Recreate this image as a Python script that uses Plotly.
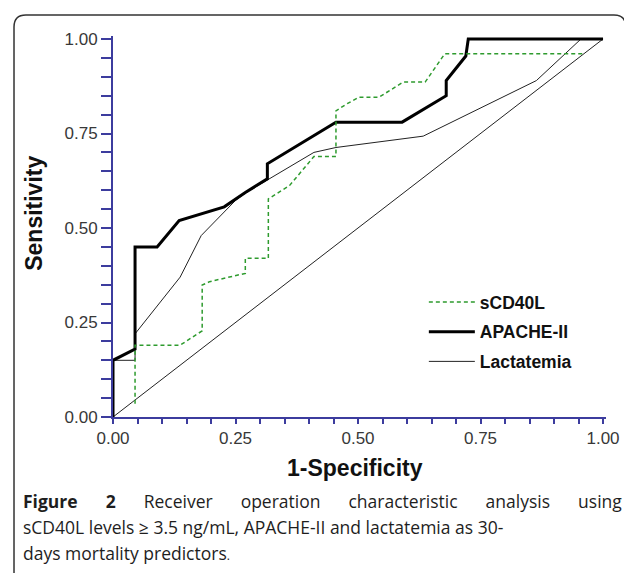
import plotly.graph_objects as go

# ---- data ----
apache_x = [0, 0, 0.045, 0.045, 0.09, 0.135, 0.227, 0.27, 0.315, 0.315, 0.455, 0.59, 0.68, 0.68, 0.72, 0.725, 1.0]
apache_y = [0, 0.15, 0.18, 0.45, 0.45, 0.52, 0.556, 0.594, 0.63, 0.67, 0.78, 0.78, 0.85, 0.89, 0.955, 1.0, 1.0]

lact_x = [0, 0, 0.045, 0.045, 0.137, 0.18, 0.25, 0.272, 0.315, 0.41, 0.455, 0.633, 0.864, 0.955, 1.0]
lact_y = [0, 0.15, 0.15, 0.22, 0.37, 0.48, 0.573, 0.594, 0.627, 0.70, 0.713, 0.743, 0.89, 1.0, 1.0]

scd_x = [0.045, 0.045, 0.137, 0.182, 0.182, 0.197, 0.27, 0.27, 0.317, 0.317, 0.36, 0.41, 0.455, 0.455,
         0.478, 0.502, 0.543, 0.592, 0.637, 0.677, 0.962]
scd_y = [0.035, 0.19, 0.19, 0.228, 0.349, 0.358, 0.38, 0.42, 0.42, 0.577, 0.612, 0.689, 0.689, 0.81,
         0.829, 0.846, 0.846, 0.886, 0.886, 0.961, 0.961]

diag_x = [0, 1]
diag_y = [0, 1]

tick_vals = [0, 0.25, 0.5, 0.75, 1.0]
tick_text = ["0.00", "0.25", "0.50", "0.75", "1.00"]

# page body has an 8px margin, so the figure is drawn 8px smaller and positions are
# given in screen pixels and converted below
OFF = 8
W, H = 632 - OFF, 573 - OFF
L, R, T, B = 105, 21, 28, 156
PW, PH = W - L - R, H - T - B


def px(x):
    return (x - OFF - L) / PW


def py(y):
    return (H - B - (y - OFF)) / PH


AXC = "#3c3c9e"
FONT = "Liberation Sans, Arial, sans-serif"
CFONT = "Open Sans, sans-serif"

fig = go.Figure()
fig.add_trace(go.Scatter(x=diag_x, y=diag_y, mode="lines", showlegend=False,
                         line=dict(color="#222", width=1), hoverinfo="skip"))
fig.add_trace(go.Scatter(x=lact_x, y=lact_y, mode="lines", name="Lactatemia",
                         line=dict(color="#222", width=1), legendrank=3, legendgroup="c"))
fig.add_trace(go.Scatter(x=apache_x, y=apache_y, mode="lines", name="APACHE-II",
                         line=dict(color="#000", width=3), legendrank=2, legendgroup="b"))
fig.add_trace(go.Scatter(x=scd_x, y=scd_y, mode="lines", name="sCD40L",
                         line=dict(color="#2e9b2e", width=1.5, dash="4px,3px"), legendrank=1, legendgroup="a"))

axis_common = dict(
    showgrid=False, zeroline=False, showline=True, linecolor=AXC, linewidth=2,
    ticks="outside", tickcolor=AXC, tickwidth=2,
    tickvals=tick_vals, ticktext=tick_text,
    tickfont=dict(family=FONT, size=17, color="#383838"),
    layer="below traces",
)

fig.update_layout(
    width=W, height=H,
    margin=dict(l=L, r=R, t=T, b=B),
    paper_bgcolor="white", plot_bgcolor="white",
    xaxis=dict(range=[0, PW / 495], ticklen=5,
               minor=dict(dtick=0.05, tick0=0, ticks="outside", ticklen=5, tickcolor=AXC, tickwidth=2),
               **axis_common),
    yaxis=dict(range=[0, PH / 378], ticklen=10,
               minor=dict(dtick=0.05, tick0=0, ticks="outside", ticklen=10, tickcolor=AXC, tickwidth=2),
               **axis_common),
    legend=dict(x=px(427), y=py(284), xanchor="left", yanchor="top",
                font=dict(family=FONT, size=17.5, color="#111", weight="bold"),
                bgcolor="rgba(0,0,0,0)", traceorder="grouped", tracegroupgap=4,
                itemwidth=46),
    showlegend=True,
)

gap = "\u2003\u2002\u200a"
line1 = gap.join(["<b>Figure</b>", "<b>2</b>", "Receiver", "operation", "characteristic", "analysis", "using"])

annos = [
    dict(text="<b>Sensitivity</b>", x=px(33), y=py(213), textangle=-90,
         font=dict(family=FONT, size=23, color="#111")),
    dict(text="<b>1-Specificity</b>", x=px(357), y=py(468),
         font=dict(family=FONT, size=23, color="#111")),
    dict(text=line1, x=px(20), y=py(501),
         xanchor="left", font=dict(family=CFONT, size=17.5, color="#1e1e1e")),
    dict(text="sCD40L levels \u2265 3.5 ng/mL, APACHE-II and lactatemia as 30-", x=px(20), y=py(527),
         xanchor="left", font=dict(family=CFONT, size=17.5, color="#1e1e1e")),
    dict(text="days mortality predictors<span style='font-size:12px'>.</span>", x=px(20), y=py(553),
         xanchor="left", font=dict(family=CFONT, size=17.5, color="#1e1e1e")),
]
for a in annos:
    a.setdefault("xanchor", "center")
    fig.add_annotation(xref="paper", yref="paper", showarrow=False, yanchor="middle", **a)

# rounded frame around the figure
x0, x1, y0, y1, r = px(13), px(631), py(15), py(640), 12
rx, ry = r / PW, r / PH
path = (f"M {x0},{y1} L {x0},{y0 - ry} Q {x0},{y0} {x0 + rx},{y0} "
        f"L {x1 - rx},{y0} Q {x1},{y0} {x1},{y0 - ry} L {x1},{y1}")
fig.add_shape(type="path", path=path, xref="paper", yref="paper",
              line=dict(color="#333", width=1.5), layer="below")

fig.write_html("out.html")
